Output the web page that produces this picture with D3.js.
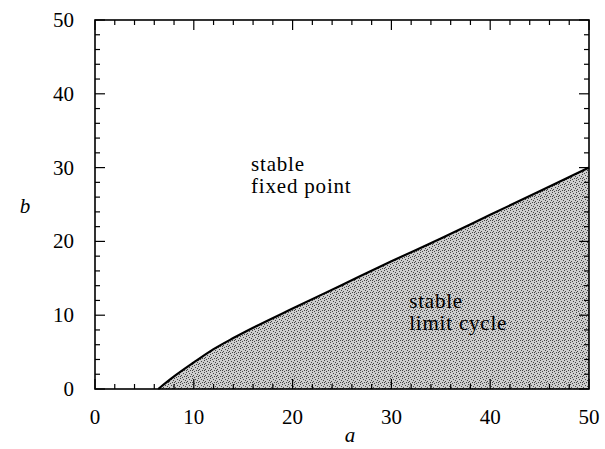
<!DOCTYPE html>
<html><head><meta charset="utf-8">
<script src="https://cdn.jsdelivr.net/npm/d3@7"></script>
<style>body{margin:0;background:#fff}svg{display:block}</style>
</head><body>
<svg id="c" width="605" height="449"></svg>
<script>
const aVals = [6.4, 8, 10, 12, 14, 16, 20, 25, 30, 35, 40, 45, 50];
const bVals = [0, 1.7, 3.6, 5.4, 6.9, 8.3, 10.9, 14.1, 17.3, 20.4, 23.6, 26.8, 30];
const xTicks = [0, 10, 20, 30, 40, 50];
const yTicks = [0, 10, 20, 30, 40, 50];
const regionLabels = [
  {a: 16, b: 29.6, lines: ["stable", "fixed point"]},
  {a: 32, b: 11, lines: ["stable", "limit cycle"]}
];

const svg = d3.select("#c");
const x = d3.scaleLinear().domain([0, 50]).range([95, 589]);
const y = d3.scaleLinear().domain([0, 50]).range([389, 20]);
const pts = aVals.map((a, i) => [a, bVals[i]]);

const defs = svg.append("defs");
const pat = defs.append("pattern").attr("id", "stip").attr("patternUnits", "userSpaceOnUse")
  .attr("width", 6).attr("height", 6);
pat.append("rect").attr("width", 6).attr("height", 6).attr("fill", "#cdcdcd");
[[0,0],[3,1],[1,3],[4,4],[2,5],[5,2],[0,4]].forEach(([px,py]) =>
  pat.append("rect").attr("x", px).attr("y", py).attr("width", 1).attr("height", 1).attr("fill", "#444"));

const area = d3.area().curve(d3.curveMonotoneX).x(d => x(d[0])).y0(y(0)).y1(d => y(d[1]));
svg.append("path").datum(pts).attr("d", area).attr("fill", "url(#stip)");

svg.append("path").datum(pts)
  .attr("d", d3.line().curve(d3.curveMonotoneX).x(d => x(d[0])).y(d => y(d[1])))
  .attr("fill", "none").attr("stroke", "#000").attr("stroke-width", 2.2);

svg.append("rect").attr("x", x(0)).attr("y", y(50)).attr("width", x(50) - x(0)).attr("height", y(0) - y(50))
  .attr("fill", "none").attr("stroke", "#000").attr("stroke-width", 1.6);

const minor = d3.range(0, 51, 2);
const g = svg.append("g").attr("stroke", "#000").attr("stroke-width", 1.2);
minor.forEach(v => {
  const maj = v % 10 === 0;
  const L = maj ? 10 : 5;
  g.append("line").attr("x1", x(v)).attr("x2", x(v)).attr("y1", y(0)).attr("y2", y(0) - L);
  g.append("line").attr("x1", x(v)).attr("x2", x(v)).attr("y1", y(50)).attr("y2", y(50) + L);
  g.append("line").attr("y1", y(v)).attr("y2", y(v)).attr("x1", x(0)).attr("x2", x(0) + L);
  g.append("line").attr("y1", y(v)).attr("y2", y(v)).attr("x1", x(50)).attr("x2", x(50) - L);
});

const font = "'Liberation Serif', 'Times New Roman', serif";
svg.selectAll(".xt").data(xTicks).enter().append("text")
  .attr("x", d => x(d)).attr("y", 424).attr("text-anchor", "middle")
  .attr("font-family", font).attr("font-size", 21).text(d => d);
svg.selectAll(".yt").data(yTicks).enter().append("text")
  .attr("x", 74).attr("y", d => y(d) + 7).attr("text-anchor", "end")
  .attr("font-family", font).attr("font-size", 21).text(d => d);

svg.append("text").attr("x", 350).attr("y", 442).attr("text-anchor", "middle")
  .attr("font-family", font).attr("font-style", "italic").attr("font-size", 21).text("a");
svg.append("text").attr("x", 25).attr("y", 213).attr("text-anchor", "middle")
  .attr("font-family", font).attr("font-style", "italic").attr("font-size", 21).text("b");

regionLabels.forEach(r => {
  r.lines.forEach((t, i) => {
    svg.append("text").attr("x", x(r.a) - 2).attr("y", y(r.b) + i * 22)
      .attr("font-family", font).attr("font-size", 21).attr("letter-spacing", 0.8).text(t);
  });
});
</script>
</body></html>
